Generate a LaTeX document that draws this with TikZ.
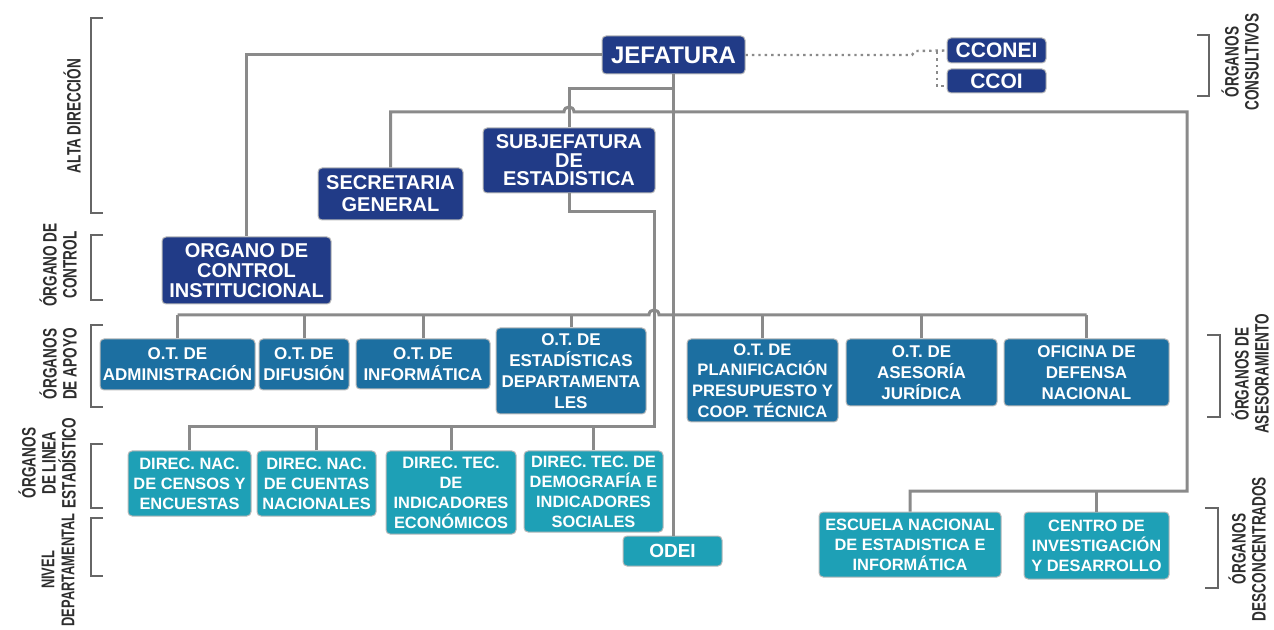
\documentclass[tikz,border=0pt]{standalone}
\usepackage{fontspec}
\setmainfont{Liberation Sans}
\newfontfamily\lblfont{Liberation Sans}[FakeStretch=0.7]
\definecolor{navycol}{HTML}{213B87}
\definecolor{apoyocol}{HTML}{1C6FA1}
\definecolor{lineacol}{HTML}{1EA0B6}
\definecolor{conncol}{HTML}{8A8A8A}
\definecolor{lblcol}{HTML}{2E2E2E}
\newcommand{\mybox}[7]{%
  \pgfmathsetmacro\bxcx{(#3+#5)/2}%
  \pgfmathsetmacro\bxcy{(#4+#6)/2}%
  \pgfmathsetmacro\bxw{(#5-#3)*0.5}%
  \pgfmathsetmacro\bxh{(#6-#4)*0.5}%
  \node[#1, minimum width=\bxw pt, minimum height=\bxh pt] (#2) at (\bxcx,\bxcy) {#7};}
\begin{document}
\begin{tikzpicture}[x=0.5pt,y=-0.5pt,
  box/.style={rounded corners=2pt, text=white, align=center, inner sep=0pt, draw=gray!55, line width=0.5pt},
  nv/.style={box, fill=navycol, font=\fontsize{10}{10}\selectfont\bfseries},
  ap/.style={box, fill=apoyocol, font=\fontsize{8.5}{10.6}\selectfont\bfseries},
  tl/.style={box, fill=lineacol, font=\fontsize{8.2}{10}\selectfont\bfseries},
  ln/.style={draw=conncol, line width=1.5pt},
  dln/.style={draw=conncol, line width=1.2pt, dotted},
  brk/.style={draw=gray!80!black, line width=0.8pt},
  lbl/.style={rotate=90, align=center, text=lblcol, font=\lblfont\fontsize{9.7}{10}\selectfont\bfseries}]
\useasboundingbox (0,0) rectangle (1274,630);

% ---------- boxes ----------
\mybox{nv, font=\fontsize{12}{12}\selectfont\bfseries}{jef}{602}{36}{745}{74}{JEFATURA}
\mybox{nv, font=\fontsize{10.5}{10.5}\selectfont\bfseries}{cconei}{947}{38}{1046}{63}{CCONEI}
\mybox{nv, font=\fontsize{10.5}{10.5}\selectfont\bfseries}{ccoi}{947}{69}{1046}{93}{CCOI}
\mybox{nv, font=\fontsize{10}{9.2}\selectfont\bfseries}{subj}{483}{128}{655}{193}{SUBJEFATURA\\DE\\ESTADISTICA}
\mybox{nv, font=\fontsize{10}{11}\selectfont\bfseries}{sec}{318}{168}{463}{220}{SECRETARIA\\GENERAL}
\mybox{nv}{ocon}{162}{237}{331}{304}{ORGANO DE\\CONTROL\\INSTITUCIONAL}

\mybox{ap}{adm}{100}{339}{255}{390}{O.T. DE\\ADMINISTRACIÓN}
\mybox{ap}{dif}{259}{339}{349}{390}{O.T. DE\\DIFUSIÓN}
\mybox{ap}{inf}{356}{339}{490}{389}{O.T. DE\\INFORMÁTICA}
\mybox{ap}{estd}{496}{328}{646}{414}{O.T. DE\\ESTADÍSTICAS\\DEPARTAMENTA\\LES}
\mybox{ap, font=\fontsize{8.3}{10.4}\selectfont\bfseries}{plan}{687}{339}{838}{422}{O.T. DE\\PLANIFICACIÓN\\PRESUPUESTO Y\\COOP. TÉCNICA}
\mybox{ap}{ases}{846}{339}{997}{406}{O.T. DE\\ASESORÍA\\JURÍDICA}
\mybox{ap}{ofi}{1004}{339}{1169}{406}{OFICINA DE\\DEFENSA\\NACIONAL}

\mybox{tl}{cens}{128}{451}{251}{516}{DIREC. NAC.\\DE CENSOS Y\\ENCUESTAS}
\mybox{tl}{cuen}{257}{451}{376}{516}{DIREC. NAC.\\DE CUENTAS\\NACIONALES}
\mybox{tl}{econ}{386}{451}{516}{534}{DIREC. TEC.\\DE\\INDICADORES\\ECONÓMICOS}
\mybox{tl}{demo}{524}{451}{663}{532}{DIREC. TEC. DE\\DEMOGRAFÍA E\\INDICADORES\\SOCIALES}
\mybox{tl, font=\fontsize{9.5}{9.5}\selectfont\bfseries}{odei}{623}{536}{722}{566}{ODEI}
\mybox{tl}{esc}{819}{512}{1001}{577}{ESCUELA NACIONAL\\DE ESTADISTICA E\\INFORMÁTICA}
\mybox{tl}{cen}{1024}{512}{1169}{579}{CENTRO DE\\INVESTIGACIÓN\\Y DESARROLLO}

% ---------- junction coordinates ----------
\coordinate (t89) at (673.5,89);
\coordinate (r112) at (1187,112);
\coordinate (r491) at (1187,491);
\coordinate (s212) at (654,212);
\coordinate (s427) at (654,427);

% ---------- connectors ----------
% trunk
\draw[ln] (jef.south) -- (jef.south |- odei.north);
% organo de control
\draw[ln] (jef.west) -| (ocon.north);
% subjefatura
\draw[ln] (t89) -| (subj.north);
% secretaria + desconcentrados
\draw[ln] (sec.north) |- (564,112) .. controls (564,105.3) and (574,105.3) .. (574,112) -- (r112) -- (r491) -| (esc.north);
\draw[ln] (cen.north) -- (cen.north |- r491);
% apoyo row bar with hop
\draw[ln] (adm.north |- 0,315) -- (649,315) .. controls (649,308.3) and (659,308.3) .. (659,315) -- (ofi.north |- 0,315);
\foreach \n in {adm,dif,inf,estd,plan,ases,ofi}
  \draw[ln] (\n.north) -- (\n.north |- 0,315);
% subjefatura to linea row
\draw[ln] (subj.south) |- (s212) -- (s427) -| (cens.north);
\foreach \n in {cuen,econ,demo}
  \draw[ln] (\n.north) -- (\n.north |- s427);
% consultivos dotted
\draw[dln] (jef.east) -- (912,55) -- (915,51) -- (cconei.west);
\draw[dln] (937,52) -- (937,86) -- (ccoi.west |- 0,86);

% ---------- brackets ----------
\draw[brk] (103,18) -- (91,18) -- (91,213) -- (103,213);
\draw[brk] (103,235) -- (91,235) -- (91,300) -- (103,300);
\draw[brk] (103,325) -- (91,325) -- (91,407) -- (103,407);
\draw[brk] (103,444) -- (91,444) -- (91,508) -- (103,508);
\draw[brk] (103,518) -- (91,518) -- (91,576) -- (103,576);
\draw[brk] (1197,35) -- (1209,35) -- (1209,96) -- (1197,96);
\draw[brk] (1207,335) -- (1220,335) -- (1220,417) -- (1207,417);
\draw[brk] (1205,508) -- (1218,508) -- (1218,588) -- (1205,588);

% ---------- labels ----------
\node[lbl] (l1) at (72,116) {ALTA DIRECCIÓN};
\node[lbl] (l2) at (58,265) {ÓRGANO DE\\CONTROL};
\node[lbl] (l3) at (58,364) {ÓRGANOS\\DE APOYO};
\node[lbl] (l4) at (47,463) {ÓRGANOS\\DE LINEA\\ESTADÍSTICO};
\node[lbl, font=\lblfont\fontsize{9.2}{10}\selectfont\bfseries] (l5) at (58,570) {NIVEL\\DEPARTAMENTAL};
\node[lbl] (r1) at (1240,62) {ÓRGANOS\\CONSULTIVOS};
\node[lbl] (r2) at (1250,374) {ÓRGANOS DE\\ASESORAMIENTO};
\node[lbl] (r3) at (1247,549) {ÓRGANOS\\DESCONCENTRADOS};
\end{tikzpicture}
\end{document}
